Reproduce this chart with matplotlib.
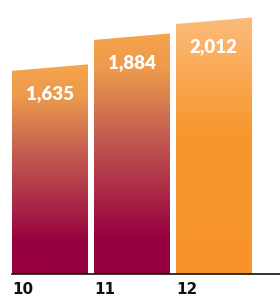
import numpy as np
import matplotlib
matplotlib.use('Agg')
from matplotlib import pyplot as plt
from matplotlib.colors import LinearSegmentedColormap
from matplotlib.patches import Polygon

years = ['10', '11', '12']
values = [1635, 1884, 2012]
labels = ['1,635', '1,884', '2,012']

# colour ramps, top of bar -> bottom of bar
past_cmap = LinearSegmentedColormap.from_list(
    'past', [(0.0, '#F6A44C'), (0.15, '#EC9A4C'), (0.42, '#C45E50'),
             (0.85, '#96003F'), (1.0, '#96003F')])
latest_cmap = LinearSegmentedColormap.from_list(
    'latest', [(0.0, '#FCBB7A'), (0.45, '#F7972E'), (1.0, '#F7932A')])
cmaps = [past_cmap, past_cmap, latest_cmap]

W, H = 280, 299
fig = plt.figure(figsize=(W / 100, H / 100), dpi=100)
ax = fig.add_axes([12 / W, 25 / H, (W - 12) / W, 274 / H])

px_per_unit = 250 / 2012
ymax = 274 / px_per_unit
bar_w = 76 / 82
slant = 6.5 / px_per_unit
x_left = -bar_w / 2

grad = np.linspace(0, 1, 256).reshape(-1, 1)
for i, (v, cm) in enumerate(zip(values, cmaps)):
    x0, x1 = i - bar_w / 2, i + bar_w / 2
    poly = Polygon([(x0, 0), (x0, v), (x1, v + slant), (x1, 0)],
                   closed=True, facecolor='none', edgecolor='none')
    ax.add_patch(poly)
    im = ax.imshow(grad, cmap=cm, aspect='auto', origin='upper',
                   extent=[x0, x1, 0, v + slant], interpolation='bilinear')
    im.set_clip_path(poly)
    ax.text(i, v - 23 / px_per_unit, labels[i], ha='center', va='center',
            color='white', fontsize=13.5, fontweight='heavy', family='Lato')
    ax.text(x0, -8 / px_per_unit, years[i], ha='left', va='top',
            color='#111111', fontsize=11, fontweight='bold', family='DejaVu Sans')

ax.axhline(0, color='#111111', lw=1.2, clip_on=False)
ax.set_xlim(x_left, x_left + (W - 12) / 82)
ax.set_ylim(0, ymax)
ax.axis('off')

fig.savefig('out.png', dpi=100)
